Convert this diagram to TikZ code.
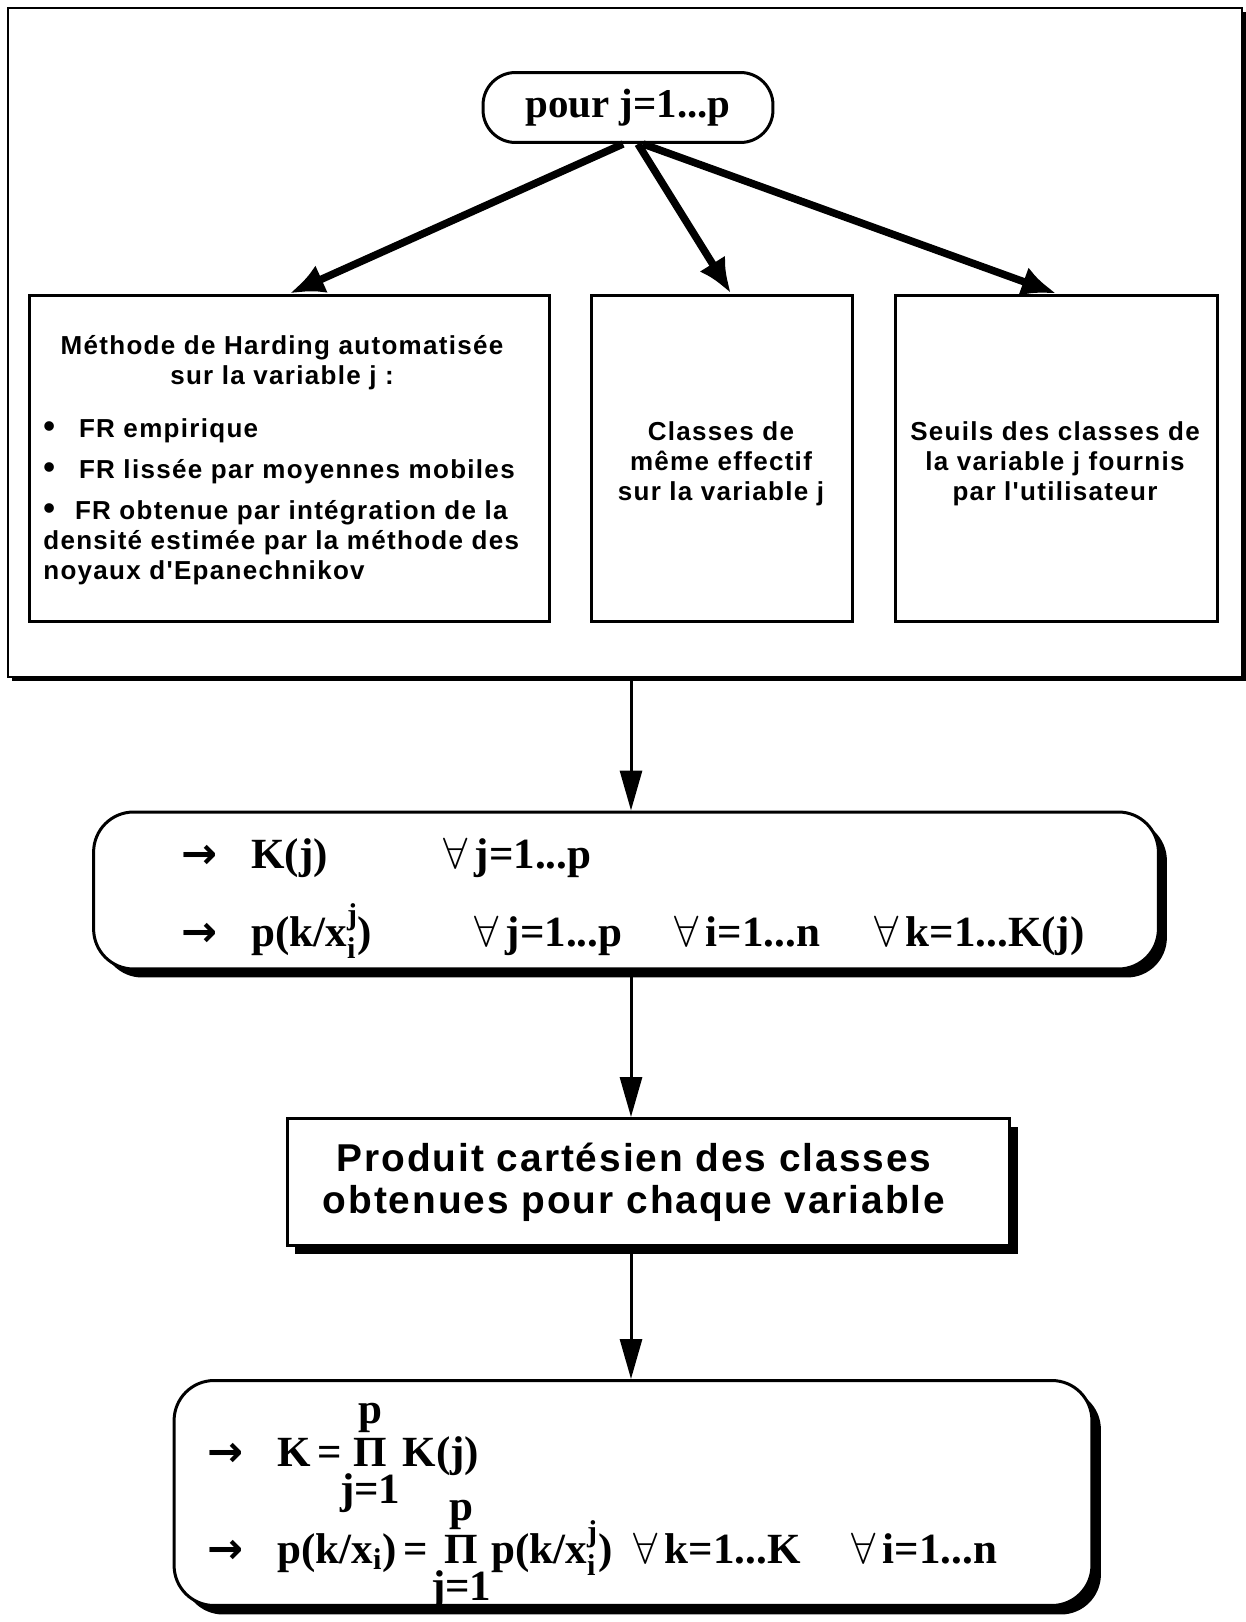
\documentclass[tikz,border=0pt]{standalone}
\usepackage{amsmath}
\usepackage{fontspec}
\setmainfont{Liberation Sans}
\newfontfamily\helv{Liberation Sans}[LetterSpace=5]
\newfontfamily\tms{Liberation Serif}
\newfontfamily\arrowfont{DejaVu Sans}
\usetikzlibrary{arrows.meta,calc,positioning,shadows}

\newcommand{\toarrow}{{\arrowfont\bfseries →}}
\newcommand{\bigdot}{{\fontsize{19}{16.8}\selectfont\textbullet}}
\newcommand{\prodj}{\mathop{\text{Π}}\limits^{\textstyle\text{p}}_{\textstyle\text{j=1}}}

\tikzset{
  onebox/.style={draw, line width=0.06cm, fill=white, inner sep=0pt},
  roundbox/.style={onebox, rounded corners=0.8cm},
  blackshadow/.style={drop shadow={shadow xshift=#1, shadow yshift=-#1, fill=black, opacity=1}},
  thickarrow/.style={line width=0.15cm, -{Latex[length=0.7cm,width=0.6cm]}},
  thinarrow/.style={line width=0.06cm, -{Triangle[length=0.8cm,width=0.44cm]}},
  boxtext/.style={font={\helv\bfseries\fontsize{14.8}{16.8}\selectfont}, inner sep=0pt},
  mathtext/.style={font={\tms\bfseries\fontsize{24.5}{26}\selectfont}, inner sep=0pt, anchor=base west},
}

\begin{document}
\begin{tikzpicture}[x=0.02cm, y=-0.02cm]

  \useasboundingbox (0,0) rectangle (1246,1622);

  % frame round the loop over the variables
  \node[onebox, line width=0.05cm, blackshadow=0.08cm, minimum width=24.68cm, minimum height=13.38cm] (frame) at (625,342.5) {};

  \node[roundbox, rounded corners=0.65cm, minimum width=5.8cm, minimum height=1.4cm,
        font={\tms\bfseries\fontsize{23.3}{25}\selectfont}] (pour) at (628,107.5) {pour j=1...p};

  \node[onebox, minimum width=10.42cm, minimum height=6.54cm] (harding) at (289.5,458.5) {};
  \node[onebox, minimum width=5.24cm, minimum height=6.54cm] (classes) at (722,458.5) {};
  \node[onebox, minimum width=6.46cm, minimum height=6.54cm] (seuils) at (1056.5,458.5) {};

  % base of a node with several lines = its last line
  \node[boxtext, align=center, anchor=base] (hardingtitle) at (282,384)
    {Méthode de Harding automatisée\\sur la variable j :};
  \node[boxtext, align=left, anchor=base west] (hardinglist) at (43,579)
    {\bigdot\hspace{0.48cm}FR empirique\\[6.8pt]
     \bigdot\hspace{0.48cm}FR lissée par moyennes mobiles\\[6.8pt]
     \bigdot\hspace{0.4cm}FR obtenue par intégration de la\\
     densité estimée par la méthode des\\
     noyaux d'Epanechnikov};
  \node[boxtext, align=center, anchor=base] (classestext) at (721,500)
    {Classes de\\même effectif\\sur la variable j};
  \node[boxtext, align=center, anchor=base] (seuilstext) at (1055,500)
    {Seuils des classes de\\la variable j fournis\\par l'utilisateur};

  \draw[thickarrow] ([xshift=-0.1cm]pour.south) -- (harding.north);
  \draw[thickarrow] ([xshift=0.2cm]pour.south) -- ([xshift=0.18cm]classes.north);
  \draw[thickarrow] ([xshift=0.3cm]pour.south) -- (seuils.north);

  % number of classes and membership
  \node[roundbox, blackshadow=0.17cm, minimum width=21.3cm, minimum height=3.14cm] (cardinal) at (626,890.5) {};
  \node[mathtext] (arrowa) at (181,868) {\toarrow};
  \node[mathtext] (ka) at (251,868) {K(j)};
  \node[mathtext] (kb) at (443,868) {$\forall$\,j=1...p};
  \node[mathtext] (arrowb) at (181,946) {\toarrow};
  \node[mathtext] (pa) at (251,946) {p(k/x$_{\text{i}}^{\text{j}}$)};
  \node[mathtext] (pb) at (474,946) {$\forall$\,j=1...p};
  \node[mathtext] (pc) at (674,946) {$\forall$\,i=1...n};
  \node[mathtext] (pd) at (874,946) {$\forall$\,k=1...K(j)};

  \node[onebox, blackshadow=0.16cm, minimum width=14.46cm, minimum height=2.54cm] (produit) at (648.5,1182) {};
  \node[align=center, inner sep=0pt, font={\helv\bfseries\fontsize{22.1}{23.9}\selectfont}] (produittext) at (634,1182)
    {Produit cartésien des classes\\obtenues pour chaque variable};

  % cartesian product
  \node[roundbox, blackshadow=0.18cm, minimum width=18.36cm, minimum height=4.5cm] (produitK) at (633,1493) {};
  \node[mathtext] (arrowc) at (207,1466) {\toarrow};
  \node[mathtext] (kprod) at (277,1466) {K\hspace{0.15em}=\hspace{-0.04em}$\prodj$\hspace{0.05em}K(j)};
  \node[mathtext] (arrowd) at (207,1563) {\toarrow};
  \node[mathtext] (pprod) at (277,1563)
    {p(k/x$_{\text{i}}$)\hspace{0.15em}=\hspace{0.08em}$\prodj$p(k/x$_{\text{i}}^{\text{j}}$)};
  \node[mathtext] (pe) at (633,1563) {$\forall$\,k=1...K};
  \node[mathtext] (pf) at (851,1563) {$\forall$\,i=1...n};

  \coordinate (spine) at (631,0);
  \draw[thinarrow] (frame.south -| spine) -- (cardinal.north -| spine);
  \draw[thinarrow] (cardinal.south -| spine) -- (produit.north -| spine);
  \draw[thinarrow] (produit.south -| spine) -- (produitK.north -| spine);

\end{tikzpicture}
\end{document}
